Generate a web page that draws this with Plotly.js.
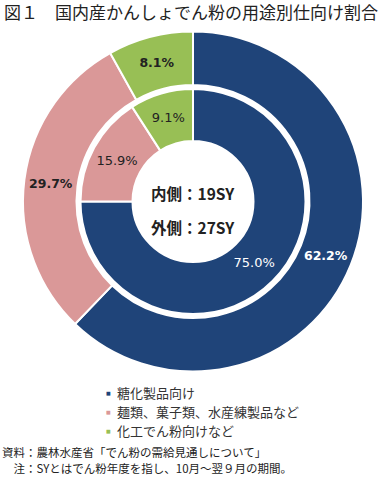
<!DOCTYPE html>
<html><head><meta charset="utf-8">
<script src="https://cdn.plot.ly/plotly-3.0.1.min.js"></script>
<style>html,body{margin:0;padding:0;background:#fff}#chart{width:387px;height:477px}</style>
</head><body><div id="chart"></div>
<script>
const categories = ["糖化製品向け", "麺類、菓子類、水産練製品など", "化工でん粉向けなど"];
const inner19SY = [75.0, 15.9, 9.1];
const outer27SY = [62.2, 29.7, 8.1];
const colors = ["#1F4479", "#DA9898", "#98BF55"];
const titleText = "図１　国内産かんしょでん粉の用途別仕向け割合";
const centerLines = ["内側：19SY", "外側：27SY"];
const notes = ["資料：農林水産省「でん粉の需給見通しについて」", "　注：SYとはでん粉年度を指し、10月～翌９月の期間。"];

const W = 387, H = 477;
const px = v => v / W, py = v => 1 - v / H;
const cx = 193, cy = 201.5, Ro = 170, Ri = 112.5;
const dom = r => ({x: [px(cx - r), px(cx + r)], y: [py(cy + r), py(cy - r)]});
const jp = "'Noto Sans CJK JP', 'Noto Sans', sans-serif";
const num = "'DejaVu Sans', sans-serif";
const textCols = ["#ffffff", "#222222", "#222222"];

const outer = {
  type: "pie", labels: categories, values: outer27SY, sort: false, direction: "clockwise", rotation: 0,
  hole: 116.5 / 170, domain: dom(Ro),
  marker: {colors: colors, line: {color: "#ffffff", width: 2}},
  textinfo: "text", texttemplate: "%{value:.1f}%", textposition: "inside", insidetextorientation: "horizontal",
  textfont: {family: num, size: 12.5, color: textCols, weight: "bold"},
  hoverinfo: "skip", showlegend: false
};
const inner = {
  type: "pie", labels: categories, values: inner19SY, sort: false, direction: "clockwise", rotation: 0,
  hole: 60.5 / 112.5, domain: dom(Ri),
  marker: {colors: colors, line: {color: "#ffffff", width: 2}},
  textinfo: "text", texttemplate: "%{value:.1f}%", textposition: "inside", insidetextorientation: "horizontal",
  textfont: {family: num, size: 13, color: textCols},
  hoverinfo: "skip", showlegend: false
};

const ann = [];
ann.push({text: titleText, x: px(3), y: py(12), xref: "paper", yref: "paper", xanchor: "left", yanchor: "middle",
  borderpad: 0, showarrow: false, font: {family: jp, size: 17, color: "#222"}});
centerLines.forEach((t, i) => ann.push({text: "<b>" + t + "</b>", x: px(cx), y: py(193 + i * 34), xref: "paper", yref: "paper",
  xanchor: "center", yanchor: "middle", showarrow: false, font: {family: jp, size: 15.5, color: "#222"}}));
const legY = [392, 411, 430];
categories.forEach((c, i) => {
  ann.push({text: "■", x: px(108), y: py(legY[i] + 1), xref: "paper", yref: "paper", xanchor: "center", yanchor: "middle",
    showarrow: false, font: {family: "'DejaVu Sans', sans-serif", size: 5, color: colors[i]}});
  ann.push({text: c, x: px(115), y: py(legY[i]), xref: "paper", yref: "paper", xanchor: "left", yanchor: "middle",
    showarrow: false, font: {family: jp, size: 13, color: "#333"}});
});
const noteY = [452, 468];
notes.forEach((t, i) => ann.push({text: t, x: px(1), y: py(noteY[i]), xref: "paper", yref: "paper", xanchor: "left", yanchor: "middle",
  borderpad: 0, showarrow: false, font: {family: jp, size: 11.5, color: "#222"}}));

Plotly.newPlot("chart", [outer, inner], {
  width: W, height: H, margin: {l: 0, r: 0, t: 0, b: 0},
  paper_bgcolor: "#ffffff", plot_bgcolor: "#ffffff", showlegend: false, annotations: ann
}, {staticPlot: true, displayModeBar: false});
</script></body></html>
